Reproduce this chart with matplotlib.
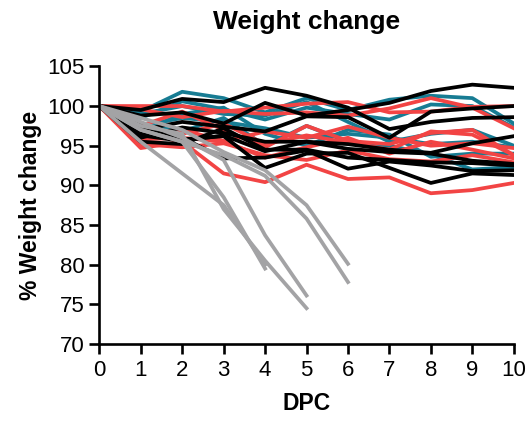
import numpy as np
import matplotlib.pyplot as plt

plt.rcParams['font.family'] = ['Liberation Sans', 'DejaVu Sans']

# days post challenge
dpc = np.arange(0, 11)

# teal group
teal = [
    [100, 99.3, 101.8, 101.0, 99.2, 101.0, 99.5, 100.8, 101.3, 101.0, 97.8],
    [100, 98.5, 100.6, 99.6, 98.3, 99.8, 99.0, 98.3, 100.2, 100.0, 97.3],
    [100, 97.5, 98.5, 98.0, 97.2, 96.0, 96.5, 96.0, 95.2, 95.5, 94.8],
    [100, 96.8, 99.0, 99.8, 96.5, 95.0, 97.0, 96.4, 93.6, 94.0, 94.0],
    [100, 97.8, 96.8, 98.5, 95.0, 97.5, 95.5, 95.0, 93.9, 92.0, 92.3],
    [100, 99.0, 100.0, 99.0, 98.8, 100.5, 98.0, 95.5, 96.5, 97.0, 95.0],
]

# red group
red = [
    [100, 100.0, 100.0, 99.3, 99.8, 100.3, 100.5, 99.2, 99.3, 99.9, 100.0],
    [100, 99.6, 98.6, 99.4, 99.0, 99.2, 98.8, 99.7, 101.0, 99.8, 97.2],
    [100, 97.5, 99.3, 97.0, 94.8, 97.5, 95.6, 95.2, 96.6, 97.0, 93.8],
    [100, 95.8, 96.0, 95.5, 96.8, 96.0, 97.4, 96.0, 95.0, 95.3, 94.7],
    [100, 94.7, 95.5, 91.5, 90.4, 92.6, 90.8, 91.0, 89.0, 89.4, 90.3],
    [100, 95.2, 94.8, 95.3, 93.8, 93.2, 94.4, 93.3, 93.0, 93.8, 92.9],
    [100, 96.2, 97.0, 95.6, 93.5, 94.8, 96.0, 94.0, 95.5, 94.5, 93.4],
    [100, 97.0, 96.5, 97.8, 95.2, 96.3, 95.4, 94.5, 96.8, 96.4, 93.8],
]

# black group
black = [
    [100, 99.5, 100.9, 100.5, 102.3, 101.3, 99.8, 97.1, 98.0, 98.5, 98.6],
    [100, 98.8, 99.2, 97.8, 100.4, 98.8, 99.5, 100.4, 101.9, 102.7, 102.3],
    [100, 97.0, 98.0, 97.4, 96.8, 98.7, 98.6, 96.0, 99.3, 99.7, 100.0],
    [100, 96.0, 97.3, 96.6, 95.5, 95.5, 95.2, 94.5, 94.1, 95.3, 96.2],
    [100, 95.5, 95.2, 97.2, 94.5, 94.5, 93.5, 93.2, 92.9, 92.8, 92.5],
    [100, 96.5, 96.0, 93.4, 93.5, 94.4, 92.1, 93.0, 92.5, 91.8, 91.9],
    [100, 97.5, 95.8, 96.2, 92.2, 94.0, 94.1, 92.2, 90.3, 91.5, 91.3],
    [100, 96.3, 95.6, 96.3, 94.3, 95.5, 94.6, 94.2, 94.0, 93.1, 92.7],
]

# gray group (animals that dropped out early)
gray = [
    [100, 95.5, 91.5, 87.5, 80.0],
    [100, 97.0, 95.5, 88.5, 79.5],
    [100, 97.5, 96.5, 87.0, 80.5, 74.5],
    [100, 98.0, 96.0, 93.2, 83.7, 76.1],
    [100, 98.5, 97.0, 94.2, 91.9, 87.5, 80.1],
    [100, 97.0, 95.5, 93.8, 91.2, 85.8, 77.8],
]

fig = plt.figure(figsize=(5.32, 4.23), dpi=100)
ax = fig.add_axes([0.1867, 0.187, 0.779, 0.656])

lw = 2.7
for s in teal:
    ax.plot(dpc[:len(s)], s, color='#177c93', lw=lw)
for s in red:
    ax.plot(dpc[:len(s)], s, color='#f24444', lw=lw)
for s in black:
    ax.plot(dpc[:len(s)], s, color='black', lw=lw)
for s in gray:
    ax.plot(dpc[:len(s)], s, color='#a3a3a5', lw=lw)

ax.set_xlim(0, 10)
ax.set_ylim(70, 105)
ax.set_xticks(range(0, 11))
ax.set_yticks(range(70, 106, 5))
for sp in ['top', 'right']:
    ax.spines[sp].set_visible(False)
for sp in ['left', 'bottom']:
    ax.spines[sp].set_linewidth(1.9)
ax.tick_params(width=1.9, length=7.5, labelsize=16, pad=3)
ax.tick_params(axis='x', pad=4)

ax.set_title('Weight change', fontsize=19, fontweight='bold', pad=27)
ax.set_xlabel('DPC', fontsize=16.5, fontweight='bold', labelpad=8)
ax.set_ylabel('% Weight change', fontsize=16.5, fontweight='bold', labelpad=4)

fig.savefig('out.png', dpi=100)
